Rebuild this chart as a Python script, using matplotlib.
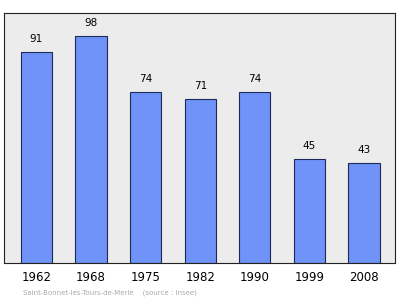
import matplotlib
matplotlib.use("Agg")
import matplotlib.pyplot as plt

years = ["1962", "1968", "1975", "1982", "1990", "1999", "2008"]
population = [91, 98, 74, 71, 74, 45, 43]

fig = plt.figure(figsize=(4, 2.99), dpi=100)
ax = fig.add_axes([0.01, 0.1204, 0.9775, 0.836])
ax.set_facecolor("#ececec")

x = range(len(years))
ax.bar(x, population, width=0.57, color="#6f93f9", edgecolor="#1c2a55", linewidth=0.8, zorder=2)
for xi, v in zip(x, population):
    ax.text(xi, v + 3.5, str(v), ha="center", va="bottom", fontsize=7.5, color="black")

ax.set_xlim(-0.594, 6.567)
ax.set_ylim(0, 108)
ax.set_xticks(list(x))
ax.set_xticklabels(years, fontsize=8.5)
ax.tick_params(axis="x", length=0, pad=6)
ax.set_yticks([])
for s in ax.spines.values():
    s.set_color("#222222")
    s.set_linewidth(0.8)

fig.text(0.057, 0.01, "Saint-Bonnet-les-Tours-de-Merle    (source : Insee)",
         fontsize=5.0, color="#aaaaaa", ha="left", va="bottom")

fig.savefig("out.png", dpi=100)
